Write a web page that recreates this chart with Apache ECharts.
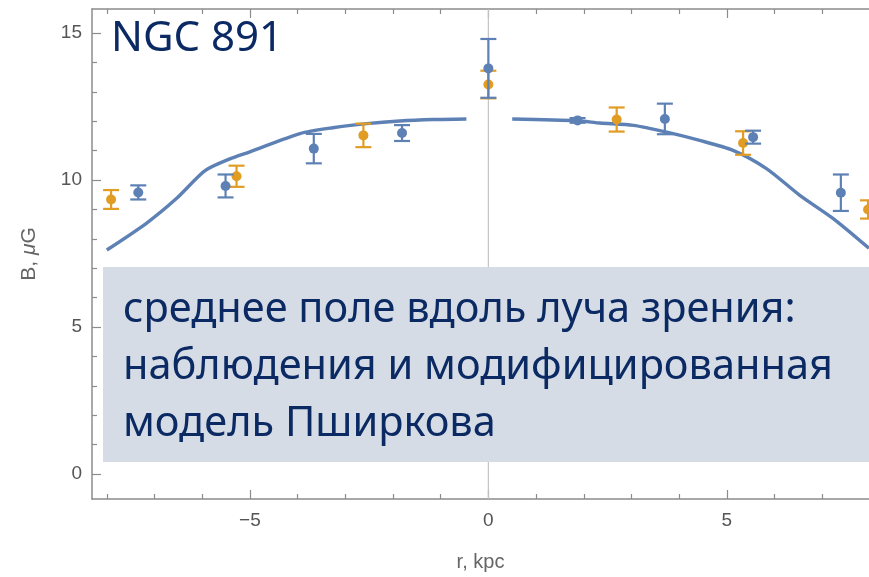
<!DOCTYPE html>
<html>
<head>
<meta charset="utf-8">
<script src="https://cdn.jsdelivr.net/npm/echarts@6/dist/echarts.min.js"></script>
<style>html,body{margin:0;padding:0;background:#fff}#c{width:869px;height:577px}</style>
</head>
<body>
<div id="c"></div>
<script>
// ---- data ----
const blueX   = [-7.34, -5.51, -3.66, -1.81, 0.0, 1.87, 3.70, 5.55, 7.39];
const blueY   = [9.58, 9.80, 11.07, 11.60, 13.80, 12.03, 12.08, 11.46, 9.57];
const blueErr = [0.24, 0.39, 0.50, 0.27, 1.00, 0.08, 0.52, 0.22, 0.62];

const orangeX   = [-7.91, -5.28, -2.62, 0.0, 2.69, 5.34, 7.96];
const orangeY   = [9.34, 10.13, 11.52, 13.25, 12.06, 11.26, 9.00];
const orangeErr = [0.32, 0.36, 0.40, 0.47, 0.41, 0.40, 0.31];

const modelLeftX  = [-8.0, -7.17, -6.54, -5.94, -5.42, -5.0, -3.95, -3.26, -2.55, -1.86, -1.16, -0.46];
const modelLeftY  = [7.62, 8.53, 9.37, 10.32, 10.72, 10.96, 11.58, 11.78, 11.92, 12.01, 12.06, 12.08];
const modelRightX = [0.50, 1.87, 2.34, 3.04, 3.74, 4.43, 5.13, 5.83, 6.53, 7.23, 7.98];
const modelRightY = [12.08, 12.02, 11.94, 11.86, 11.63, 11.35, 11.01, 10.39, 9.48, 8.69, 7.68];

const xMajorTicks = [-5, 0, 5];
const xMinorTicks = [-8, -7, -6, -4, -3, -2, -1, 1, 2, 3, 4, 6, 7];
const yMajorTicks = [0, 5, 10, 15];
const yMinorTicks = [1, 2, 3, 4, 6, 7, 8, 9, 11, 12, 13, 14];

const title = 'NGC 891';
const boxLines = ['среднее поле вдоль луча зрения:', 'наблюдения и модифицированная', 'модель Пширкова'];
const xName = 'r, kpc';
const yName = '{n|B, }{i|\u03bc}{n|G}';

// ---- chart ----
const BLUE = '#5e81b5', ORANGE = '#e19c24', AX = '#8c8c8c', NAVY = '#0b2a64';
const XMIN = -8.31, XMAX = 7.98, YMIN = -0.85, YMAX = 15.82;

function zip(a, b, c) { return a.map((v, i) => c ? [v, b[i], c[i]] : [v, b[i]]); }

function errRender(color) {
  return function (params, api) {
    const x = api.value(0), y = api.value(1), e = api.value(2);
    const p = api.coord([x, y]);
    const t = api.coord([x, y + e]);
    const b = api.coord([x, y - e]);
    const hw = 8;
    const st = { stroke: color, lineWidth: 2.2 };
    return {
      type: 'group',
      children: [
        { type: 'line', shape: { x1: p[0], y1: t[1], x2: p[0], y2: b[1] }, style: st },
        { type: 'line', shape: { x1: p[0] - hw, y1: t[1], x2: p[0] + hw, y2: t[1] }, style: st },
        { type: 'line', shape: { x1: p[0] - hw, y1: b[1], x2: p[0] + hw, y2: b[1] }, style: st },
        { type: 'circle', shape: { cx: p[0], cy: p[1], r: 5 }, style: { fill: color } }
      ]
    };
  };
}

const labelStyle = { color: '#555', fontSize: 19, fontFamily: 'Liberation Sans' };

function xAx(pos, ticks, len, withLabel, withLine) {
  return {
    type: 'value', position: pos, min: XMIN, max: XMAX,
    axisLine: { show: withLine, onZero: false, lineStyle: { color: AX, width: 1.5 } },
    axisTick: { show: true, inside: true, length: len, customValues: ticks, lineStyle: { color: AX, width: 1.2 } },
    axisLabel: withLabel ? Object.assign({ show: true, margin: 12, customValues: xMajorTicks,
      formatter: v => String(v).replace('-', '\u2212') }, labelStyle) : { show: false },
    splitLine: { show: false },
    name: withLabel ? xName : '', nameLocation: 'middle', nameGap: 53,
    nameTextStyle: { color: '#666', fontSize: 20, fontFamily: 'Liberation Sans' }
  };
}
function yAx(ticks, len, withLabel, withLine) {
  const nameStyle = { color: '#666', fontSize: 21, fontFamily: 'Liberation Sans' };
  return {
    type: 'value', position: 'left', min: YMIN, max: YMAX,
    axisLine: { show: withLine, onZero: false, lineStyle: { color: AX, width: 1.5 } },
    axisTick: { show: true, inside: true, length: len, customValues: ticks, lineStyle: { color: AX, width: 1.2 } },
    axisLabel: withLabel ? Object.assign({ show: true, margin: 10, customValues: yMajorTicks }, labelStyle) : { show: false },
    splitLine: { show: false },
    name: withLabel ? yName : '', nameLocation: 'middle', nameGap: 52,
    nameTextStyle: Object.assign({}, nameStyle, {
      rich: { n: nameStyle, i: Object.assign({}, nameStyle, { fontStyle: 'italic' }) }
    })
  };
}

const chart = echarts.init(document.getElementById('c'), null, { renderer: 'canvas' });
chart.setOption({
  animation: false,
  grid: { left: 92, top: 9, right: 0, bottom: 75, containLabel: false },
  xAxis: [
    xAx('bottom', xMajorTicks, 9, true, true),
    xAx('bottom', xMinorTicks, 5, false, false),
    xAx('top', xMajorTicks, 9, false, true),
    xAx('top', xMinorTicks, 5, false, false)
  ],
  yAxis: [
    yAx(yMajorTicks, 9, true, true),
    yAx(yMinorTicks, 5, false, false)
  ],
  series: [
    {
      type: 'line', data: [[0, YMIN], [0, YMAX]], symbol: 'none', silent: true,
      lineStyle: { color: '#c4c4c4', width: 1.2 }, z: 1
    },
    {
      type: 'line', data: zip(modelLeftX, modelLeftY), symbol: 'none', smooth: 0.25,
      lineStyle: { color: BLUE, width: 3.4 }, z: 2
    },
    {
      type: 'line', data: zip(modelRightX, modelRightY), symbol: 'none', smooth: 0.25,
      lineStyle: { color: BLUE, width: 3.4 }, z: 2
    },
    {
      type: 'custom', renderItem: errRender(ORANGE), data: zip(orangeX, orangeY, orangeErr),
      encode: { x: 0, y: 1 }, z: 3, clip: false
    },
    {
      type: 'custom', renderItem: errRender(BLUE), data: zip(blueX, blueY, blueErr),
      encode: { x: 0, y: 1 }, z: 4, clip: false
    }
  ],
  graphic: [
    {
      type: 'text', left: 111, top: 18, z: 50,
      style: { text: title, fill: NAVY, font: '42px "Noto Sans"' }
    },
    {
      type: 'rect', shape: { x: 103, y: 267, width: 800, height: 195 }, z: 40,
      style: { fill: '#d6dce5' }
    },
    {
      type: 'text', x: 123, y: 282, z: 50,
      style: { text: boxLines.join('\n'), fill: NAVY, font: '41.5px "Noto Sans"', lineHeight: 57 }
    }
  ]
});
</script>
</body>
</html>
